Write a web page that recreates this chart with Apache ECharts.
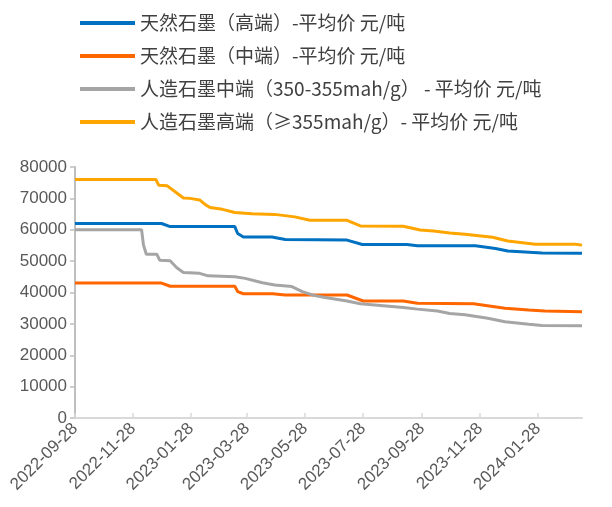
<!DOCTYPE html>
<html>
<head>
<meta charset="utf-8">
<script src="https://cdn.jsdelivr.net/npm/echarts@6/dist/echarts.min.js"></script>
<style>
  html, body { margin: 0; padding: 0; background: #fff; }
  #chart { width: 612px; height: 507px; }
</style>
</head>
<body>
<div id="chart"></div>
<script>
  // series names (legend)
  const names = [
    '天然石墨（高端）-平均价 元/吨',
    '天然石墨（中端）-平均价 元/吨',
    '人造石墨中端（350-355mah/g） - 平均价 元/吨',
    '人造石墨高端（≥355mah/g）- 平均价 元/吨'
  ]
  const colors = ['#0070C0', '#FF6600', '#A5A5A5', '#FFA500']

  // x axis tick labels
  const tickDates = ['2022-09-28', '2022-11-28', '2023-01-28', '2023-03-28', '2023-05-28',
    '2023-07-28', '2023-09-28', '2023-11-28', '2024-01-28']
  const xStart = '2022-09-28'
  const xEnd = '2024-03-14'

  // 天然石墨（高端）
  const natHigh = [
    ['2022-09-28', 62000], ['2022-12-28', 62000], ['2023-01-06', 61000], ['2023-03-15', 61000],
    ['2023-03-18', 58800], ['2023-03-24', 57700], ['2023-04-23', 57700], ['2023-05-07', 56900],
    ['2023-07-11', 56700], ['2023-07-27', 55300], ['2023-09-12', 55300], ['2023-09-23', 54900],
    ['2023-11-23', 54900], ['2023-12-14', 54000], ['2023-12-27', 53200], ['2024-02-01', 52600],
    ['2024-03-14', 52500]
  ]
  // 天然石墨（中端）
  const natMid = [
    ['2022-09-28', 43000], ['2022-12-28', 43000], ['2023-01-06', 42000], ['2023-03-15', 42000],
    ['2023-03-18', 40300], ['2023-03-24', 39600], ['2023-04-24', 39600], ['2023-05-07', 39200],
    ['2023-07-11', 39200], ['2023-07-28', 37300], ['2023-09-08', 37300], ['2023-09-23', 36600],
    ['2023-11-21', 36400], ['2023-12-24', 35000], ['2024-01-18', 34400], ['2024-02-04', 34100],
    ['2024-03-14', 33900]
  ]
  // 人造石墨中端
  const artMid = [
    ['2022-09-28', 60000], ['2022-12-07', 60000], ['2022-12-09', 55100], ['2022-12-12', 52200],
    ['2022-12-23', 52200], ['2022-12-26', 50300], ['2023-01-06', 50100], ['2023-01-13', 47900],
    ['2023-01-20', 46400], ['2023-02-06', 46100], ['2023-02-15', 45300], ['2023-03-15', 45000],
    ['2023-03-26', 44500], ['2023-04-13', 43100], ['2023-04-26', 42400], ['2023-05-14', 41900],
    ['2023-05-25', 40300], ['2023-06-07', 39000], ['2023-06-18', 38400], ['2023-07-11', 37300],
    ['2023-07-25', 36400], ['2023-09-08', 35200], ['2023-09-23', 34700], ['2023-10-14', 34100],
    ['2023-10-27', 33300], ['2023-11-12', 32900], ['2023-12-06', 31800], ['2023-12-24', 30700],
    ['2024-01-18', 29900], ['2024-02-01', 29500], ['2024-03-14', 29400]
  ]
  // 人造石墨高端
  const artHigh = [
    ['2022-09-28', 76000], ['2022-12-22', 76000], ['2022-12-25', 74200], ['2023-01-03', 74000],
    ['2023-01-20', 70100], ['2023-01-27', 70000], ['2023-02-06', 69500], ['2023-02-12', 68000],
    ['2023-02-17', 67100], ['2023-03-02', 66500], ['2023-03-15', 65500], ['2023-04-02', 65100],
    ['2023-04-26', 64900], ['2023-05-17', 64100], ['2023-06-02', 63000], ['2023-07-11', 63000],
    ['2023-07-25', 61200], ['2023-09-08', 61100], ['2023-09-26', 59900], ['2023-10-10', 59600],
    ['2023-10-27', 59000], ['2023-11-12', 58600], ['2023-12-11', 57600], ['2023-12-27', 56400],
    ['2024-01-25', 55400], ['2024-03-07', 55400], ['2024-03-14', 55100]
  ]

  function toTs(s) {
    return new Date(s + 'T00:00:00').getTime()
  }
  function pad(n) {
    return n < 10 ? '0' + n : '' + n
  }
  function fmtDate(v) {
    const d = new Date(v)
    return d.getFullYear() + '-' + pad(d.getMonth() + 1) + '-' + pad(d.getDate())
  }

  const tickTs = tickDates.map(toTs)
  const allData = [natHigh, natMid, artMid, artHigh]

  const series = allData.map((arr, i) => ({
    name: names[i],
    type: 'line',
    showSymbol: false,
    symbol: 'none',
    color: colors[i],
    lineStyle: { width: 3, color: colors[i] },
    data: arr.map(p => [toTs(p[0]), p[1]]),
    animation: false
  }))

  const chart = echarts.init(document.getElementById('chart'))
  chart.setOption({
    animation: false,
    legend: {
      orient: 'vertical',
      left: 75,
      top: 8,
      icon: 'rect',
      itemWidth: 55,
      itemHeight: 4,
      itemGap: 13,
      data: names,
      textStyle: {
        fontFamily: 'Noto Sans CJK SC',
        fontSize: 19,
        lineHeight: 20,
        color: '#404040'
      }
    },
    grid: {
      left: 75,
      right: 30,
      top: 167,
      bottom: 89
    },
    // dates as timestamps on a value axis, so ticks can sit on the 28th
    xAxis: {
      type: 'value',
      min: toTs(xStart),
      max: toTs(xEnd),
      axisLine: { lineStyle: { color: '#D9D9D9', width: 2 } },
      axisTick: {
        show: true,
        inside: true,
        length: 5,
        customValues: tickTs,
        lineStyle: { color: '#D9D9D9', width: 1.5 }
      },
      axisLabel: {
        customValues: tickTs,
        rotate: 45,
        margin: 8,
        color: '#595959',
        fontFamily: 'Liberation Sans',
        fontSize: 17,
        formatter: v => fmtDate(v)
      },
      splitLine: { show: false }
    },
    yAxis: {
      type: 'value',
      min: 0,
      max: 80000,
      interval: 10000,
      axisLine: { show: true, lineStyle: { color: '#BFBFBF', width: 2 } },
      axisTick: { show: true, length: 5, lineStyle: { color: '#BFBFBF', width: 1.5 } },
      axisLabel: {
        margin: 8,
        color: '#595959',
        fontFamily: 'Liberation Sans',
        fontSize: 17,
        formatter: v => String(v)
      },
      splitLine: { show: false }
    },
    series: series
  })
</script>
</body>
</html>
